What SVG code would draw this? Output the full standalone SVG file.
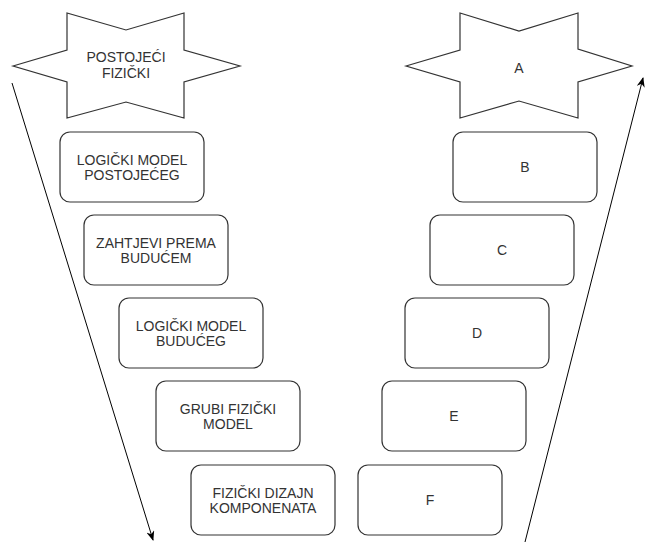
<svg xmlns="http://www.w3.org/2000/svg" width="654" height="542" viewBox="0 0 654 542">
<style>
.shape{fill:#ffffff;stroke:#333333;stroke-width:1.2}
.t{font-family:"Liberation Sans",Arial,sans-serif;font-size:14px;fill:#333333;text-anchor:middle}
.conn{fill:none;stroke:#000000;stroke-width:1}
</style>
<defs>
<marker id="arr" viewBox="0 0 10 8" refX="9" refY="4" markerWidth="10" markerHeight="8" markerUnits="userSpaceOnUse" orient="auto">
<path d="M0,0 L10,4 L0,8 L3,4 z" fill="#000000"/>
</marker>
</defs>
<rect width="654" height="542" fill="#ffffff"/>
<g id="connectors">
<line class="conn" x1="12" y1="83" x2="153" y2="540" marker-end="url(#arr)"/>
<line class="conn" x1="524" y1="546" x2="643" y2="78" marker-end="url(#arr)"/>
</g>
<g id="star-left">
<polygon class="shape" points="13,66 67,50 67,13 126,30 184,13 184,50 240,66 184,82 184,118 126,102 67,118 67,82"/>
<text class="t" x="126" y="62">POSTOJEĆI</text>
<text class="t" x="126" y="77.5">FIZIČKI</text>
</g>
<g id="star-right">
<polygon class="shape" points="406,66 460,50 460,13 519,31 578,13 578,49 632,66 578,82 578,118 519,101 460,118 460,82"/>
<text class="t" x="519" y="73">A</text>
</g>
<g id="box-l1">
<rect class="shape" x="60" y="132" width="144" height="70" rx="10"/>
<text class="t" x="132" y="164.5">LOGIČKI MODEL</text>
<text class="t" x="132" y="179.5">POSTOJEĆEG</text>
</g>
<g id="box-l2">
<rect class="shape" x="84" y="215" width="144" height="70" rx="10"/>
<text class="t" x="156" y="247.5">ZAHTJEVI PREMA</text>
<text class="t" x="156" y="262.5">BUDUĆEM</text>
</g>
<g id="box-l3">
<rect class="shape" x="119" y="298" width="144" height="70" rx="10"/>
<text class="t" x="191" y="330.5">LOGIČKI MODEL</text>
<text class="t" x="191" y="345.5">BUDUĆEG</text>
</g>
<g id="box-l4">
<rect class="shape" x="156" y="381" width="144" height="70" rx="10"/>
<text class="t" x="228" y="413.5">GRUBI FIZIČKI</text>
<text class="t" x="228" y="428.5">MODEL</text>
</g>
<g id="box-l5">
<rect class="shape" x="191" y="465" width="144" height="70" rx="10"/>
<text class="t" x="263" y="497.5">FIZIČKI DIZAJN</text>
<text class="t" x="263" y="512.5">KOMPONENATA</text>
</g>
<g id="box-b">
<rect class="shape" x="453" y="132" width="144" height="70" rx="10"/>
<text class="t" x="525" y="172">B</text>
</g>
<g id="box-c">
<rect class="shape" x="430" y="215" width="144" height="70" rx="10"/>
<text class="t" x="502" y="255">C</text>
</g>
<g id="box-d">
<rect class="shape" x="405" y="298" width="144" height="70" rx="10"/>
<text class="t" x="477" y="338">D</text>
</g>
<g id="box-e">
<rect class="shape" x="382" y="381" width="144" height="70" rx="10"/>
<text class="t" x="454" y="421">E</text>
</g>
<g id="box-f">
<rect class="shape" x="358" y="465" width="144" height="70" rx="10"/>
<text class="t" x="430" y="505">F</text>
</g>
</svg>
